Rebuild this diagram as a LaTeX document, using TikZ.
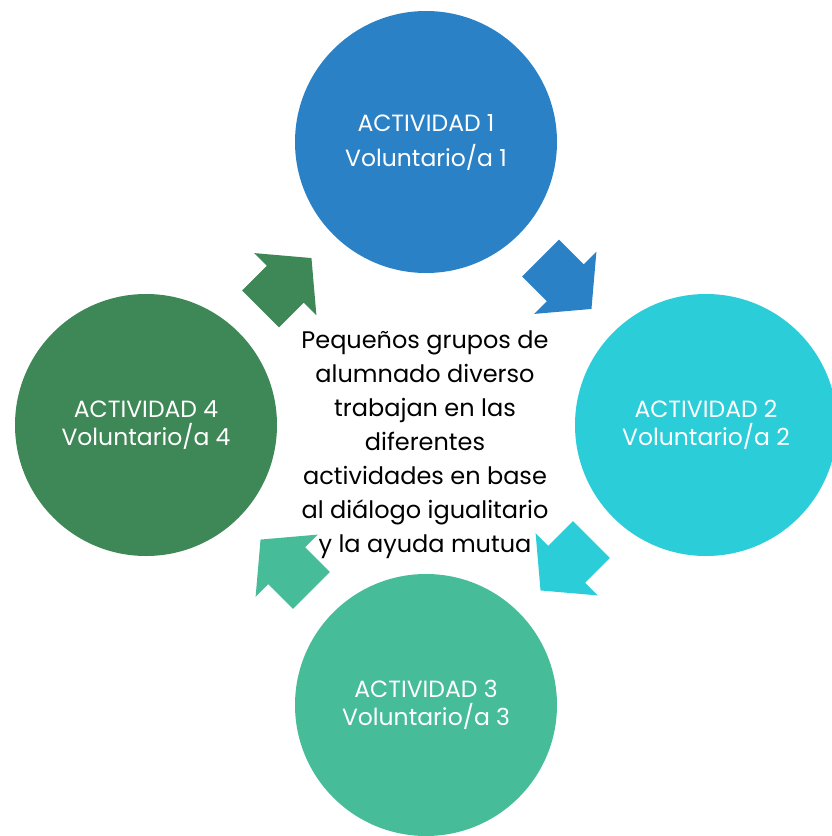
\documentclass[tikz,border=0pt]{standalone}
\usepackage{fontspec}
\setmainfont{Poppins}
\usetikzlibrary{calc}

\definecolor{azulact}{RGB}{42,129,198}
\definecolor{cianact}{RGB}{42,205,216}
\definecolor{turqact}{RGB}{70,188,153}
\definecolor{verdeact}{RGB}{62,135,86}

\begin{document}
\begin{tikzpicture}[x=1pt,y=1pt,
  actividad/.style={circle, minimum size=262pt, inner sep=0pt, text=white,
    align=center, font=\fontsize{23.5}{28}\selectfont}]
\useasboundingbox (0,0) rectangle (832,-836);
\clip (0,0) rectangle (832,-836);
% circles
\node [actividad, fill=azulact, font=\fontsize{23.5}{35}\selectfont] (act1) at (426,-142) {ACTIVIDAD 1\\Voluntario/a 1};
\node [actividad, fill=cianact] (act2) at (706,-425) {ACTIVIDAD 2\\Voluntario/a 2};
\node [actividad, fill=turqact] (act3) at (426,-705) {ACTIVIDAD 3\\Voluntario/a 3};
\node [actividad, fill=verdeact] (act4) at (146,-425) {ACTIVIDAD 4\\Voluntario/a 4};
\node [align=center, font=\fontsize{24}{34}\selectfont] (centro) at (425,-445)
  {Pequeños grupos de\\alumnado diverso\\trabajan en las\\diferentes\\actividades en base\\al diálogo igualitario\\y la ayuda mutua};
% arrows
\coordinate (m12) at ($(act1)!0.5!(act2)$);
\coordinate (m23) at ($(act2)!0.5!(act3)$);
\coordinate (m34) at ($(act3)!0.5!(act4)$);
\coordinate (m41) at ($(act4)!0.5!(act1)$);
\fill [azulact, shift={(m12)}, rotate=-45] (-36,26) -- (-1,26) -- (-1,44) -- (36,0) -- (-1,-44) -- (-1,-26) -- (-36,-26) -- cycle;
\fill [cianact, shift={(m23)}, rotate=-135] (-36,26) -- (-1,26) -- (-1,44) -- (36,0) -- (-1,-44) -- (-1,-26) -- (-36,-26) -- cycle;
\fill [turqact, shift={(m34)}, rotate=135] (-36,26) -- (-1,26) -- (-1,44) -- (36,0) -- (-1,-44) -- (-1,-26) -- (-36,-26) -- cycle;
\fill [verdeact, shift={(m41)}, rotate=45] (-36,26) -- (-1,26) -- (-1,44) -- (36,0) -- (-1,-44) -- (-1,-26) -- (-36,-26) -- cycle;
\end{tikzpicture}
\end{document}
